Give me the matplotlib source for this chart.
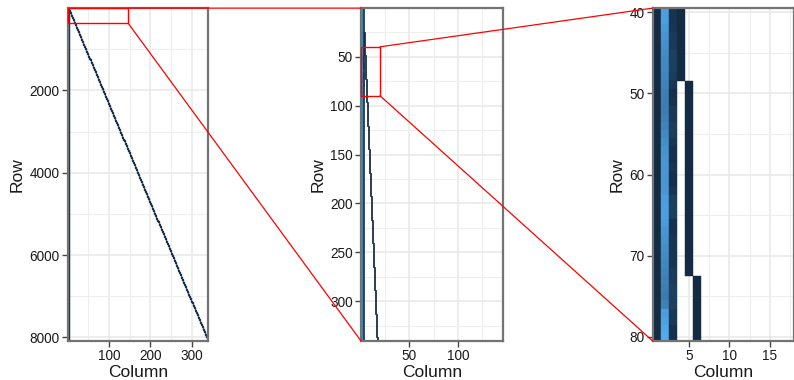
import numpy as np
import matplotlib.pyplot as plt
from matplotlib.colors import LinearSegmentedColormap, Normalize
from matplotlib.patches import Rectangle, ConnectionPatch

plt.rcParams['font.family'] = ['Liberation Sans', 'DejaVu Sans']

## design matrix: intercept, two covariates, then one dummy column per day (24 rows each)
n_rows = 8088
hours_per_day = 24
intercept_value = 1.0
dummy_value = 1.0
dummy_cols = np.arange(4, 340)
dummy_first_row = (dummy_cols - 3) * hours_per_day + 1

## covariate columns 2 and 3 (rows 40..80)
read_rows = np.arange(40, 81)
col2_values = [13.0, 13.0, 12.5, 11.9, 11.5, 11.1, 10.8, 10.7, 10.4, 10.2,
               9.8, 9.7, 9.5, 9.8, 10.2, 10.8, 11.4, 11.8, 12.1, 12.2,
               12.2, 12.2, 12.3, 12.9, 13.0, 13.0, 12.8, 12.2, 11.8, 11.4,
               10.9, 10.7, 10.2, 10.0, 9.7, 9.4, 10.0, 12.9, 13.3, 13.9, 14.3]
col3_values = [2.0, 2.0, 2.1, 2.7, 2.6, 3.2, 3.2, 3.2, 2.8, 2.3,
               1.6, 1.8, 2.5, 2.5, 3.0, 3.0, 2.2, 1.7, 1.7, 2.0,
               1.6, 1.6, 2.1, 3.1, 3.1, 3.1, 1.8, 1.8, 2.1, 2.1,
               2.1, 2.1, 2.7, 2.7, 3.2, 3.2, 3.2, 2.5, 2.5, 1.7, 1.7]
col2_other = 11.3
col3_other = 2.3

cmap = LinearSegmentedColormap.from_list('gg', ['#132B43', '#56B1F7'])
norm = Normalize(vmin=1.0, vmax=15.0)


def draw_matrix(ax, lw):
    c = cmap(norm(intercept_value))
    ax.bar(1, n_rows, bottom=0.5, width=1, color=c, edgecolor=c, linewidth=lw, zorder=2)
    for col, vals, other in [(2, col2_values, col2_other), (3, col3_values, col3_other)]:
        colors = cmap(norm(np.array(vals)))
        ax.bar(np.full(len(read_rows), col), 1, bottom=read_rows - 0.5, width=1,
               color=colors, edgecolor=colors, linewidth=lw, zorder=2)
        oc = cmap(norm(other))
        ax.bar([col, col], [read_rows[0] - 1, n_rows - read_rows[-1]],
               bottom=[0.5, read_rows[-1] + 0.5], width=1,
               color=oc, edgecolor=oc, linewidth=lw, zorder=2)
    dc = cmap(norm(dummy_value))
    ax.bar(dummy_cols, hours_per_day, bottom=dummy_first_row - 0.5, width=1,
           color=dc, edgecolor=dc, linewidth=lw, zorder=2)


fig = plt.figure(figsize=(7.94, 3.8), dpi=100)
ax1 = fig.add_axes([0.0853, 0.1026, 0.1771, 0.876])
ax2 = fig.add_axes([0.4547, 0.1026, 0.1792, 0.876])
ax3 = fig.add_axes([0.8220, 0.1026, 0.1780, 0.876])

settings = [
    (ax1, (0.5, 339.5), (8088.5, 0.5), [100, 200, 300], [2000, 4000, 6000, 8000],
     [50, 150, 250], [1000, 3000, 5000, 7000], 0.95),
    (ax2, (0.5, 146.5), (340.5, 0.5), [50, 100], [50, 100, 150, 200, 250, 300],
     [25, 75, 125], [25, 75, 125, 175, 225, 275, 325], 0.55),
    (ax3, (0.5, 18.0), (80.5, 39.5), [5, 10, 15], [40, 50, 60, 70, 80],
     [2.5, 7.5, 12.5, 17.5], [45, 55, 65, 75], 0.3),
]

for ax, xl, yl, xt, yt, xm, ym, lw in settings:
    draw_matrix(ax, lw)
    ax.set_xlim(xl)
    ax.set_ylim(yl)
    ax.set_xticks(xt)
    ax.set_yticks(yt)
    ax.set_xticks(xm, minor=True)
    ax.set_yticks(ym, minor=True)
    ax.set_axisbelow(True)
    ax.grid(which='major', color='#e8e8e8', linewidth=1.1, zorder=0)
    ax.grid(which='minor', color='#eeeeee', linewidth=0.8, zorder=0)
    ax.tick_params(which='major', length=4.5, width=1.0, color='#444444',
                   labelsize=9.8, labelcolor='#1a1a1a', pad=1.5)
    ax.tick_params(which='minor', length=0)
    for s in ax.spines.values():
        s.set_color('#737373')
        s.set_linewidth(1.6)
        s.set_zorder(3)
    ax.set_xlabel('Column', fontsize=12.5, labelpad=1, color='#1a1a1a')
    ax.set_ylabel('Row', fontsize=12.5, labelpad=3, color='#1a1a1a')

## zoom boxes and connectors
red = '#ff0000'
ax1.add_patch(Rectangle((0.5, 0.5), 145.5, 364.5, fill=False, edgecolor=red,
                        linewidth=1.0, clip_on=False, zorder=5))
ax2.add_patch(Rectangle((0.5, 40), 19.5, 50, fill=False, edgecolor=red,
                        linewidth=1.0, clip_on=False, zorder=5))

links = [(ax1, ax2, (146, 0.5), (0, 1)), (ax1, ax2, (146, 365), (0, 0)),
         (ax2, ax3, (20, 40), (0, 1)), (ax2, ax3, (20, 90), (0, 0))]
for a, b, pa, pb in links:
    con = ConnectionPatch(xyA=pa, coordsA=a.transData, xyB=pb, coordsB=b.transAxes,
                          color=red, linewidth=0.9, zorder=10)
    fig.add_artist(con)

plt.savefig('out.png', dpi=100)
